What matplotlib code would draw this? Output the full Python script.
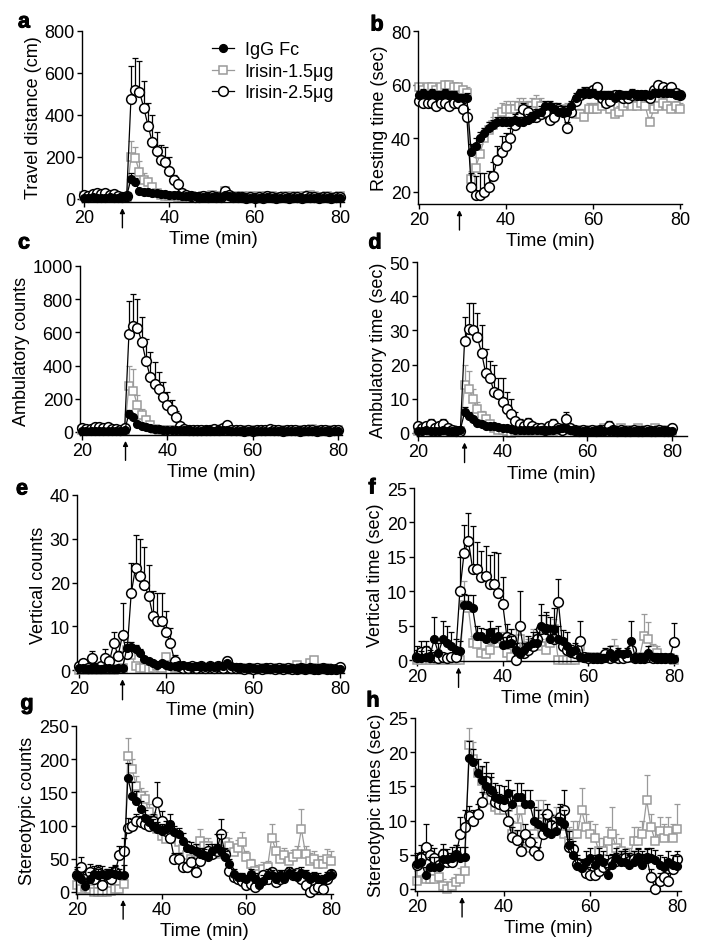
import numpy as np
import matplotlib.pyplot as plt
import matplotlib.patheffects as pe

plt.rcParams.update({
    'font.family': ['Liberation Sans', 'DejaVu Sans'],
    'axes.linewidth': 1.0,
    'xtick.major.width': 1.0,
    'ytick.major.width': 1.0,
    'xtick.major.size': 3.5,
    'ytick.major.size': 3.5,
    'xtick.labelsize': 13,
    'ytick.labelsize': 13,
})

# time bins (min)
time = np.arange(20, 81)

# ---- a: travel distance (cm)
igg_a = [5, 5, 8, 5, 5, 5, 8, 5, 5, 8,
         15, 95, 80, 40, 35, 32, 30, 28, 25, 22,
         20, 20, 18, 15, 15, 12, 12, 10, 10, 8,
         10, 8, 10, 20, 15, 10, 8, 8, 5, 5,
         5, 5, 5, 8, 5, 5, 5, 5, 5, 5,
         5, 5, 5, 5, 5, 5, 5, 5, 5, 5, 5]
igg_a_err = [8, 6, 8, 6, 6, 6, 8, 6, 6, 8,
             10, 30, 20, 10, 8, 8, 8, 6, 6, 6,
             6, 6, 5, 5, 5, 5, 5, 4, 4, 4,
             4, 4, 5, 8, 6, 5, 4, 4, 3, 3,
             3, 3, 3, 4, 3, 3, 3, 3, 3, 3,
             3, 3, 3, 3, 3, 3, 3, 3, 3, 3, 3]
lo_a = [15, 10, 15, 20, 15, 10, 15, 10, 10, 10,
        10, 200, 195, 130, 90, 80, 55, 30, 20, 15,
        15, 15, 10, 10, 10, 15, 10, 10, 15, 15,
        20, 15, 15, 40, 15, 10, 15, 15, 10, 15,
        10, 15, 10, 15, 15, 10, 10, 15, 10, 15,
        10, 15, 15, 20, 15, 10, 10, 15, 10, 10, 15]
lo_a_err = [6, 5, 6, 8, 6, 5, 6, 5, 5, 5,
            5, 75, 55, 50, 35, 20, 15, 10, 8, 6,
            6, 6, 5, 5, 5, 6, 5, 5, 6, 6,
            8, 6, 6, 10, 6, 5, 6, 6, 5, 6,
            5, 6, 5, 6, 6, 5, 5, 6, 5, 6,
            5, 6, 6, 8, 6, 5, 5, 6, 5, 5, 6]
hi_a = [20, 15, 25, 30, 25, 30, 20, 25, 15, 10,
        15, 475, 520, 510, 435, 350, 270, 230, 185, 175,
        135, 90, 70, 30, 20, 15, 10, 10, 15, 10,
        15, 10, 10, 40, 20, 10, 10, 10, 5, 10,
        5, 10, 5, 15, 10, 5, 10, 10, 5, 10,
        10, 5, 15, 10, 10, 5, 10, 10, 5, 10, 10]
hi_a_err = [8, 6, 10, 12, 10, 12, 8, 10, 6, 5,
            8, 160, 150, 145, 125, 105, 130, 90, 70, 75,
            65, 25, 15, 10, 8, 6, 5, 5, 6, 5,
            6, 5, 5, 12, 8, 5, 5, 5, 3, 5,
            3, 5, 3, 6, 5, 3, 5, 5, 3, 5,
            5, 3, 6, 5, 5, 3, 5, 5, 3, 5, 5]

# ---- b: resting time (sec)
igg_b = [56, 57, 56, 57, 56, 56, 57, 56, 56, 55,
         55, 55, 35, 37, 40, 42, 44, 45, 46, 46,
         46, 46, 47, 46, 46, 47, 48, 49, 50, 52,
         52, 51, 50, 50, 50, 52, 55, 57, 57, 57,
         57, 56, 56, 56, 56, 55, 56, 56, 56, 57,
         56, 56, 56, 56, 57, 57, 57, 57, 57, 56, 56]
igg_b_err = [1.5, 1.5, 1.5, 1.5, 1.5, 1.5, 1.5, 1.5, 1.5, 1.5,
             1.5, 2, 3, 3, 2.5, 2, 2, 2, 2, 2,
             2, 2, 2, 2, 2, 2, 2, 2, 2, 2,
             2, 2, 2, 2, 2, 2, 2, 1.5, 1.5, 1.5,
             1.5, 1.5, 1.5, 1.5, 1.5, 1.5, 1.5, 1.5, 1.5, 1.5,
             1.5, 1.5, 1.5, 1.5, 1.5, 1.5, 1.5, 1.5, 1.5, 1.5, 1.5]
lo_b = [59, 58, 59, 59, 58, 59, 60, 60, 59, 59,
        58, 57, 25, 29, 34, 40, 43, 45, 48, 50,
        51, 51, 51, 52, 52, 51, 52, 53, 52, 50,
        49, 51, 50, 50, 51, 50, 49, 49, 48, 51,
        51, 51, 52, 53, 51, 49, 50, 52, 53, 52,
        52, 53, 52, 46, 51, 52, 53, 52, 51, 52, 51]
lo_b_err = [1.5, 1.5, 1.5, 1.5, 1.5, 1.5, 1.5, 1.5, 1.5, 1.5,
            1.5, 2, 3, 4, 4, 4, 3, 3, 3, 3,
            3, 3, 3, 3, 3, 3, 3, 3, 3, 2,
            2, 2, 2, 2, 2, 2, 2, 2, 2, 2,
            2, 2, 2, 2, 2, 2, 2, 2, 2, 2,
            2, 2, 2, 2, 2, 2, 2, 2, 2, 2, 2]
hi_b = [54, 53, 53, 53, 52, 53, 53, 52, 53, 53,
        51, 48, 22, 19, 19, 20, 22, 26, 32, 35,
        37, 40, 45, 48, 51, 50, 48, 48, 49, 50,
        47, 48, 51, 50, 44, 50, 54, 56, 57, 57,
        58, 59, 55, 53, 54, 56, 56, 55, 55, 56,
        56, 56, 56, 55, 58, 60, 59, 58, 59, 57, 56]
hi_b_err = [1.5, 1.5, 1.5, 1.5, 1.5, 1.5, 1.5, 1.5, 1.5, 1.5,
            2, 3, 5, 7, 8, 7, 6, 5, 5, 6,
            5, 4, 3, 2, 2, 2, 2, 2, 2, 2,
            2, 2, 2, 2, 2, 2, 2, 2, 2, 2,
            1.5, 1.5, 1.5, 1.5, 1.5, 1.5, 1.5, 1.5, 1.5, 1.5,
            1.5, 1.5, 1.5, 1.5, 1.5, 1.5, 1.5, 1.5, 1.5, 1.5, 1.5]

# ---- c: ambulatory counts
igg_c = [5, 5, 8, 5, 5, 8, 5, 5, 8, 5,
         10, 110, 90, 50, 35, 28, 22, 20, 18, 15,
         15, 12, 12, 10, 10, 10, 8, 8, 8, 10,
         10, 8, 10, 15, 10, 8, 8, 5, 5, 5,
         5, 5, 5, 8, 5, 5, 5, 5, 5, 5,
         5, 5, 5, 5, 5, 5, 5, 5, 5, 5, 5]
igg_c_err = [6, 5, 6, 5, 5, 6, 5, 5, 6, 5,
             6, 25, 15, 10, 8, 6, 5, 5, 5, 5,
             5, 5, 5, 5, 5, 5, 5, 5, 5, 5,
             5, 5, 5, 6, 5, 5, 5, 4, 4, 4,
             4, 4, 4, 5, 4, 4, 4, 4, 4, 4,
             4, 4, 4, 4, 4, 4, 4, 4, 4, 4, 4]
lo_c = [10, 10, 15, 15, 10, 10, 15, 10, 10, 10,
        10, 280, 250, 160, 100, 75, 40, 20, 10, 10,
        10, 15, 10, 10, 10, 15, 10, 10, 10, 15,
        15, 10, 10, 20, 15, 10, 10, 10, 10, 15,
        10, 15, 10, 10, 15, 10, 10, 15, 10, 10,
        10, 15, 10, 15, 20, 10, 10, 15, 10, 10, 10]
lo_c_err = [5, 5, 6, 6, 5, 5, 6, 5, 5, 5,
            5, 120, 130, 60, 40, 20, 12, 8, 5, 5,
            5, 6, 5, 5, 5, 6, 5, 5, 5, 6,
            6, 5, 5, 8, 6, 5, 5, 5, 5, 6,
            5, 6, 5, 5, 6, 5, 5, 6, 5, 5,
            5, 6, 5, 6, 8, 5, 5, 6, 5, 5, 5]
hi_c = [25, 20, 20, 30, 30, 25, 30, 20, 20, 15,
        25, 590, 640, 625, 545, 430, 330, 290, 260, 210,
        160, 130, 90, 35, 20, 15, 10, 10, 15, 10,
        15, 20, 10, 25, 40, 15, 10, 10, 5, 10,
        5, 10, 10, 15, 20, 10, 10, 5, 10, 10,
        10, 5, 10, 10, 10, 5, 10, 10, 5, 10, 15]
hi_c_err = [8, 8, 8, 10, 10, 8, 10, 8, 8, 6,
            10, 200, 190, 175, 145, 130, 150, 130, 100, 90,
            80, 60, 35, 15, 8, 6, 5, 5, 6, 5,
            6, 8, 5, 10, 12, 6, 5, 5, 3, 5,
            3, 5, 5, 6, 8, 5, 5, 3, 5, 5,
            5, 3, 5, 5, 5, 3, 5, 5, 3, 5, 6]

# ---- d: ambulatory time (sec)
igg_d = [0.5, 0.5, 0.8, 0.5, 0.5, 0.5, 0.8, 0.5, 0.5, 0.5,
         1, 6, 5, 4, 2.8, 2.5, 2, 2, 2, 1.8,
         1.5, 1.5, 1.2, 1, 1, 1, 0.8, 0.8, 0.8, 1,
         1, 1, 0.8, 1.2, 1.5, 1.5, 1, 0.8, 0.5, 0.5,
         0.5, 0.5, 0.5, 0.8, 0.5, 0.5, 0.8, 0.5, 0.5, 0.5,
         0.5, 0.5, 0.5, 0.5, 0.5, 0.5, 0.5, 0.5, 0.5, 0.5, 0.5]
igg_d_err = [0.4, 0.4, 0.5, 0.4, 0.4, 0.4, 0.5, 0.4, 0.4, 0.4,
             0.5, 1.5, 1.2, 1, 0.8, 0.6, 0.5, 0.5, 0.5, 0.5,
             0.5, 0.5, 0.4, 0.4, 0.4, 0.4, 0.4, 0.4, 0.4, 0.4,
             0.4, 0.4, 0.4, 0.5, 0.6, 0.6, 0.4, 0.4, 0.3, 0.3,
             0.3, 0.3, 0.3, 0.4, 0.3, 0.3, 0.4, 0.3, 0.3, 0.3,
             0.3, 0.3, 0.3, 0.3, 0.3, 0.3, 0.3, 0.3, 0.3, 0.3, 0.3]
lo_d = [0.5, 1, 0.8, 0.5, 1, 0.5, 0.8, 0.5, 1, 0.5,
        0.5, 14, 13, 10, 7, 5, 4, 2.5, 1.5, 1,
        1, 0.5, 0, 0.5, 0.5, 1, 0.5, 0.5, 1, 0.5,
        1, 0.5, 0.5, 1, 1, 1.5, 1, 0.5, 0.5, 1,
        0.5, 1, 0.5, 1, 1.5, 1, 0.5, 1, 1.5, 1,
        1, 0.5, 1.5, 1, 0.5, 1, 1.5, 1, 0.5, 1, 0.5]
lo_d_err = [0.4, 0.5, 0.4, 0.4, 0.5, 0.4, 0.4, 0.4, 0.5, 0.4,
            0.4, 6, 5, 3, 2, 1.5, 1, 0.8, 0.6, 0.5,
            0.5, 0.4, 0.3, 0.4, 0.4, 0.5, 0.4, 0.4, 0.5, 0.4,
            0.5, 0.4, 0.4, 0.5, 0.5, 0.6, 0.5, 0.4, 0.4, 0.5,
            0.4, 0.5, 0.4, 0.5, 0.6, 0.5, 0.4, 0.5, 0.6, 0.5,
            0.5, 0.4, 0.6, 0.5, 0.4, 0.5, 0.6, 0.5, 0.4, 0.5, 0.4]
hi_d = [2, 1.5, 2, 2.5, 1.5, 2, 2.5, 1.5, 1, 0.5,
        0.5, 27, 30.5, 30, 28, 23.5, 17.5, 16, 12, 11.5,
        9, 7, 5.5, 3.5, 2.5, 2, 3, 2, 1.5, 1.5,
        1, 2, 2.5, 1.5, 1, 4, 1.5, 1, 0.5, 1,
        0.5, 1, 0.5, 1, 1, 2, 1, 0.5, 1, 0.5,
        0.5, 1, 0.5, 0.5, 1, 0.5, 0.5, 1, 0.5, 0.5, 1.5]
hi_d_err = [0.8, 0.8, 0.8, 1.5, 0.8, 0.8, 1.5, 0.8, 0.6, 0.4,
            0.5, 7, 7.5, 8, 7, 8, 7, 5, 8, 4.5,
            7, 5, 4.5, 2.5, 1.5, 1, 1.5, 1, 0.8, 0.8,
            0.6, 1, 1.5, 0.8, 0.6, 2, 0.8, 0.6, 0.4, 0.6,
            0.4, 0.6, 0.4, 0.6, 0.6, 1.5, 0.6, 0.4, 0.6, 0.4,
            0.4, 0.6, 0.4, 0.4, 0.6, 0.4, 0.4, 0.6, 0.4, 0.4, 1]

# ---- e: vertical counts
igg_e = [0.5, 0.5, 0.3, 0.5, 0.5, 0.3, 0.5, 0.5, 0.3, 0.5,
         0.5, 5, 5.2, 4.8, 4, 2.5, 2, 1.5, 1.2, 1.5,
         1.2, 1, 1, 1, 1.2, 1, 0.8, 1, 1, 0.8,
         1, 0.8, 1, 1, 1.5, 1, 0.8, 0.5, 0.5, 0.5,
         0.5, 0.3, 0.5, 0.5, 0.3, 0.5, 0.3, 0.5, 0.3, 0.5,
         0.3, 0.5, 0.3, 0.5, 0.3, 0.3, 0.5, 0.3, 0.3, 0.3, 0.3]
igg_e_err = [0.3, 0.3, 0.2, 0.3, 0.3, 0.2, 0.3, 0.3, 0.2, 0.3,
             0.3, 1.5, 1.2, 1, 0.8, 0.6, 0.5, 0.4, 0.4, 0.4,
             0.4, 0.3, 0.3, 0.3, 0.4, 0.3, 0.3, 0.3, 0.3, 0.3,
             0.3, 0.3, 0.3, 0.3, 0.5, 0.3, 0.3, 0.2, 0.2, 0.2,
             0.2, 0.2, 0.2, 0.2, 0.2, 0.2, 0.2, 0.2, 0.2, 0.2,
             0.2, 0.2, 0.2, 0.2, 0.2, 0.2, 0.2, 0.2, 0.2, 0.2, 0.2]
lo_e = [0, 0.3, 0, 0.5, 0, 0.3, 0, 0.5, 0, 0.3,
        0.5, 4.5, 3.5, 1, 0.5, 0.5, 0.3, 0.5, 1, 0.5,
        3, 1, 0.5, 0.5, 0.3, 0.5, 0.3, 0.5, 0.5, 0.3,
        0.5, 0.3, 0.5, 0.5, 1, 0.5, 0.3, 0.5, 0.3, 0.5,
        0.3, 0.5, 0.3, 0.5, 0.3, 0.5, 0.5, 0.3, 0.5, 0.5,
        1.2, 0.5, 0.5, 1.5, 2.2, 0.5, 0.3, 0.5, 0.3, 0.3, 0.3]
lo_e_err = [0.2, 0.3, 0.2, 0.3, 0.2, 0.3, 0.2, 0.3, 0.2, 0.3,
            0.3, 1.5, 1, 0.5, 0.3, 0.3, 0.2, 0.3, 0.5, 0.3,
            1, 0.5, 0.3, 0.3, 0.2, 0.3, 0.2, 0.3, 0.3, 0.2,
            0.3, 0.2, 0.3, 0.3, 0.5, 0.3, 0.2, 0.3, 0.2, 0.3,
            0.2, 0.3, 0.2, 0.3, 0.2, 0.3, 0.3, 0.2, 0.3, 0.3,
            0.5, 0.3, 0.3, 0.6, 0.8, 0.3, 0.2, 0.3, 0.2, 0.2, 0.2]
hi_e = [1, 1.5, 0.5, 2.7, 0.5, 1, 2.7, 2, 6.2, 3.3,
        8, 3.6, 17.5, 23.4, 21.5, 19.4, 17, 12.4, 11.3, 11.2,
        8.6, 6.1, 2, 1, 0.5, 0.5, 1, 0.5, 1, 0.5,
        1, 0.5, 1, 0.5, 2, 0.5, 0.5, 0.5, 0.3, 0.5,
        0.3, 0.5, 0.3, 0.5, 0.5, 0.3, 0.5, 0.3, 0.5, 0.3,
        0.3, 0.5, 0.3, 0.5, 0.3, 0.3, 0.5, 0.3, 0.3, 0.3, 0.8]
hi_e_err = [0.5, 0.8, 0.3, 1.7, 0.3, 0.5, 2, 1, 2.6, 1,
            7.3, 1.5, 7, 7.4, 8.5, 8.8, 7, 5.7, 6.2, 6.3,
            4.9, 3.4, 1.5, 0.5, 0.3, 0.3, 0.5, 0.3, 0.5, 0.3,
            0.5, 0.3, 0.5, 0.3, 1, 0.3, 0.3, 0.3, 0.2, 0.3,
            0.2, 0.3, 0.2, 0.3, 0.3, 0.2, 0.3, 0.2, 0.3, 0.2,
            0.2, 0.3, 0.2, 0.3, 0.2, 0.2, 0.3, 0.2, 0.2, 0.2, 0.4]

# ---- f: vertical time (sec)
igg_f = [0.5, 0.3, 0.5, 0.5, 3, 1, 3, 2.5, 2, 1.5,
         1.3, 8, 8, 7.5, 3.5, 3.5, 3, 4, 3, 3.5,
         2.2, 2.3, 2.5, 1.5, 0.8, 1.5, 2, 2.5, 2.5, 5,
         4.5, 3, 4.5, 3, 2.8, 2, 1.2, 1.5, 0.5, 0.3,
         0.5, 0.3, 0.3, 0.3, 0.3, 1, 0.5, 1, 0.8, 1,
         2.8, 0.3, 0.3, 0.3, 1, 0.5, 0.3, 0.3, 0.3, 0.3, 0.2]
igg_f_err = [1.5, 1, 1.5, 1, 3.3, 1.5, 2.7, 2.5, 2, 1.5,
             1.5, 1.6, 1.5, 2, 1.5, 1.2, 1.5, 1.6, 1.7, 1.5,
             1.2, 1, 1, 1, 1, 1, 1.5, 1.5, 1.5, 3.2,
             2.5, 2, 3, 2, 1.5, 2, 1, 1, 0.5, 0.5,
             0.5, 0.5, 0.5, 0.5, 0.5, 1, 0.5, 0.8, 0.5, 0.8,
             2.9, 0.5, 0.5, 0.5, 1, 0.5, 0.5, 0.5, 0.5, 0.5, 0.5]
lo_f = [0, 0, 0, 0, 0, 0, 0, 0, 0, 0,
        0, 8, 7.5, 2.5, 2.3, 1, 0.8, 1.5, 3, 2.5,
        3, 1, 0.5, 2.5, 3, 1.5, 2, 2.5, 3, 2,
        1.5, 2.5, 4.5, 0, 0, 0, 0, 0, 2, 0.5,
        0.3, 0.5, 0.3, 0.5, 0.5, 1, 1.5, 0.5, 0.3, 0.3,
        0.5, 0.3, 0.5, 3.5, 3, 1.5, 1, 0.3, 0.3, 0.3, 0]
lo_f_err = [0.2, 0.2, 0.2, 0.2, 0.2, 0.2, 0.2, 0.2, 0.2, 0.2,
            0.2, 3.5, 2, 1, 1, 0.5, 0.5, 0.8, 1.5, 1,
            1, 0.5, 0.3, 2, 1.5, 0.8, 1, 2, 1.5, 1,
            0.8, 1, 1.5, 0.2, 0.2, 0.2, 0.2, 0.2, 1, 0.3,
            0.2, 0.3, 0.2, 0.3, 0.3, 0.5, 1.5, 0.3, 0.2, 0.2,
            0.3, 0.2, 0.3, 3.2, 2.5, 0.8, 1, 0.2, 0.2, 0.2, 0.2]
hi_f = [0.5, 1.2, 1.3, 0.5, 0.5, 0.3, 0.5, 0.3, 0.5, 0.5,
        10, 15.6, 17.3, 13.2, 13.2, 12.1, 12.2, 11, 11, 9.8,
        8.2, 3.3, 3, 0, 5, 1, 1.5, 2, 3, 4.5,
        4.5, 4.3, 3, 8.5, 2, 1.5, 1.2, 1, 2.8, 0.5,
        0.3, 0.3, 0.3, 0.3, 0.8, 0.3, 0.5, 0.3, 0.3, 0.5,
        1.5, 0.3, 0.3, 0.3, 0.5, 0.3, 0.3, 0.3, 0.3, 0.3, 2.6]
hi_f_err = [1, 1.5, 1.5, 0.4, 0.4, 0.3, 0.4, 0.3, 0.4, 0.4,
            5, 4, 4, 6.3, 4, 3.8, 4.4, 4.2, 4.7, 5.7,
            3.8, 2, 1.5, 0.3, 5, 0.8, 1, 1.2, 1.5, 2,
            2, 2, 1.5, 3.3, 1, 0.8, 0.6, 0.5, 2.9, 0.3,
            0.3, 0.3, 0.3, 0.3, 1, 0.3, 0.4, 0.3, 0.3, 0.4,
            1, 0.3, 0.3, 0.3, 0.4, 0.3, 0.3, 0.3, 0.3, 0.3, 2.8]

# ---- g: stereotypic counts
igg_g = [25, 20, 9, 20, 27, 25, 27, 25, 28, 27,
         25, 25, 172, 145, 137, 125, 112, 105, 100, 95,
         92, 95, 102, 90, 87, 77, 67, 65, 62, 57,
         55, 52, 62, 67, 62, 52, 42, 27, 22, 22,
         20, 27, 20, 10, 17, 25, 25, 20, 25, 20,
         28, 25, 22, 28, 25, 20, 22, 20, 18, 22, 25]
igg_g_err = [12, 10, 8, 10, 12, 10, 12, 10, 10, 12,
             10, 15, 23, 20, 15, 12, 12, 10, 10, 10,
             10, 12, 15, 10, 10, 12, 10, 10, 10, 10,
             10, 8, 10, 20, 25, 10, 8, 8, 6, 6,
             6, 8, 8, 6, 8, 10, 8, 8, 8, 8,
             10, 8, 8, 10, 8, 8, 8, 8, 8, 8, 8]
lo_g = [10, 5, 8, 5, 0, 0, 0, 0, 2, 5,
        5, 12, 205, 185, 160, 145, 140, 120, 110, 95,
        85, 80, 95, 80, 75, 65, 55, 50, 60, 77,
        70, 70, 60, 57, 60, 75, 70, 60, 67, 75,
        52, 42, 32, 27, 35, 37, 82, 62, 50, 55,
        47, 52, 57, 95, 57, 47, 50, 42, 42, 50, 47]
lo_g_err = [8, 5, 5, 5, 3, 3, 3, 3, 3, 5,
            5, 8, 27, 15, 15, 12, 12, 12, 10, 10,
            10, 10, 12, 10, 10, 10, 10, 10, 12, 18,
            12, 12, 10, 10, 12, 15, 12, 10, 12, 15,
            10, 8, 8, 8, 10, 10, 20, 15, 12, 12,
            12, 12, 12, 30, 12, 12, 12, 12, 12, 15, 15]
hi_g = [25, 37, 20, 30, 20, 30, 10, 25, 20, 30,
        55, 62, 97, 100, 107, 105, 103, 100, 107, 135,
        107, 92, 82, 50, 50, 37, 37, 45, 30, 47,
        57, 62, 57, 62, 87, 57, 32, 22, 20, 17,
        10, 12, 8, 20, 25, 20, 30, 15, 20, 25,
        30, 25, 28, 20, 10, 0, 5, 7, 5, 20, 27]
hi_g_err = [10, 15, 10, 12, 10, 10, 8, 10, 10, 10,
            15, 20, 15, 10, 10, 10, 10, 10, 10, 30,
            15, 12, 10, 8, 8, 8, 8, 8, 8, 8,
            10, 10, 10, 10, 23, 10, 6, 6, 6, 6,
            6, 6, 6, 6, 6, 6, 6, 6, 6, 6,
            6, 6, 6, 6, 6, 6, 6, 6, 6, 6, 6]

# ---- h: stereotypic times (sec)
igg_h = [3.7, 3.9, 2, 3.2, 3.2, 3.2, 4.4, 4.4, 4.6, 4.9,
         4.6, 4.7, 19.2, 18.5, 17, 16, 15, 14.5, 13.5, 13.2,
         13, 14, 12.5, 13.5, 13.5, 12.5, 12.5, 10, 9.5, 9,
         8.3, 8, 8.5, 10, 9.5, 6.5, 5, 3.3, 3, 4,
         4.5, 3.5, 4.5, 4, 2, 3.5, 4.5, 4, 4, 3.5,
         4, 4.5, 3.5, 4.5, 4.5, 4.2, 3.5, 3.2, 4, 3.5, 3.3]
igg_h_err = [1.5, 1.5, 1.2, 1.5, 1.5, 1.5, 1.5, 1.5, 1.5, 1.5,
             1.5, 1.5, 2.5, 2, 2, 2, 2, 2.5, 2, 2,
             2, 2, 2, 2, 2, 2, 2, 2, 2, 2,
             2, 2, 2, 2, 2, 2, 1.5, 1.2, 1.2, 1.5,
             1.5, 1.5, 1.5, 1.5, 1.2, 1.5, 1.5, 1.5, 1.5, 1.5,
             1.5, 1.5, 1.5, 1.5, 1.5, 1.5, 1.5, 1.5, 1.5, 1.5, 1.5]
lo_h = [1.2, 2.5, 1.5, 1.5, 1.5, 1.7, 0.5, 0, 0.5, 1,
        1.5, 2.7, 21, 19, 17, 15.8, 14.5, 13, 12, 11.5,
        11.5, 12, 8, 9, 11.5, 7, 6, 8, 11, 11,
        9.5, 9, 10, 9, 8, 7, 8, 8, 11.5, 9,
        8, 7.5, 5.5, 5.5, 7, 8, 6, 5.5, 4.5, 4.5,
        7, 7, 8, 13, 9, 7, 8.5, 7.5, 8.5, 7.5, 8.8]
lo_h_err = [1.5, 2, 1.5, 1.5, 1.5, 1.5, 1, 0.8, 1, 1.2,
            1.5, 2, 2.5, 2.5, 2, 2, 2, 2, 1.5, 1.5,
            1.5, 1.5, 2, 2, 2, 1.5, 1.5, 2, 2, 2,
            2, 2, 2, 2, 2, 2, 2, 2, 3.3, 2,
            2, 2, 2, 2, 2, 4, 2, 2, 1.5, 1.5,
            2, 2, 2, 3.7, 2, 2, 2, 2, 2, 2, 3.7]
hi_h = [3.5, 4.5, 6.2, 5, 4.5, 3.5, 5.1, 4, 4, 5,
        8, 9, 10.7, 10, 11, 12.7, 15.8, 14.4, 12.7, 12.4,
        12.2, 10, 7.6, 7.1, 5.6, 8, 6.8, 5.6, 4.9, 8,
        11, 9.3, 9, 10.5, 11.5, 6.1, 5.8, 3.7, 3.2, 2.4,
        2, 2, 2.7, 3.2, 3.7, 3.9, 4.1, 4.4, 4.6, 4.1,
        4.4, 4.6, 4.4, 4.6, 1.7, 0, 1.2, 1.7, 1.2, 2.9, 4.4]
hi_h_err = [1.5, 2, 3.3, 1.5, 1.5, 1.5, 1.5, 1.2, 1.2, 1.5,
            2.5, 2.5, 1.5, 1.5, 1.5, 1.5, 2.7, 2, 1.5, 1.5,
            1.5, 1.5, 1.5, 1.5, 1.2, 1.5, 1.2, 1.2, 1.2, 1.5,
            1.5, 1.5, 1.5, 2, 3, 1.2, 1.2, 1.2, 1.2, 1.2,
            1.2, 1.2, 1.2, 1.2, 1.2, 1.2, 1.2, 1.2, 1.2, 1.2,
            1.2, 1.2, 1.2, 1.2, 1.2, 1.2, 1.2, 1.2, 1.2, 1.2, 1.2]

ylabels = ['Travel distance (cm)', 'Resting time (sec)', 'Ambulatory counts',
           'Ambulatory time (sec)', 'Vertical counts', 'Vertical time (sec)',
           'Stereotypic counts', 'Stereotypic times (sec)']
letters = ['a', 'b', 'c', 'd', 'e', 'f', 'g', 'h']
series = [
    (igg_a, igg_a_err, lo_a, lo_a_err, hi_a, hi_a_err),
    (igg_b, igg_b_err, lo_b, lo_b_err, hi_b, hi_b_err),
    (igg_c, igg_c_err, lo_c, lo_c_err, hi_c, hi_c_err),
    (igg_d, igg_d_err, lo_d, lo_d_err, hi_d, hi_d_err),
    (igg_e, igg_e_err, lo_e, lo_e_err, hi_e, hi_e_err),
    (igg_f, igg_f_err, lo_f, lo_f_err, hi_f, hi_f_err),
    (igg_g, igg_g_err, lo_g, lo_g_err, hi_g, hi_g_err),
    (igg_h, igg_h_err, lo_h, lo_h_err, hi_h, hi_h_err),
]

# layout in pixels: tick20 px, tick80 px, xlim, (px, val) of top tick, (px, val) of low tick,
# ylim, yticks, arrow x, panel-letter centre
W, H = 704, 953
layout = [
    (84, 340, (19.5, 81), (32, 800), (200, 0), (-15, 800), [0, 200, 400, 600, 800], 29.0, (24, 23)),
    (419, 680, (19.8, 80.5), (32, 80), (193, 20), (15.5, 80), [20, 40, 60, 80], 29.3, (377, 26)),
    (82, 338, (19.5, 81), (267, 1000), (433, 0), (-18, 1000), [0, 200, 400, 600, 800, 1000], 30.2, (24, 244)),
    (418, 672, (19.7, 83.5), (263, 50), (434, 0), (-1, 50), [0, 10, 20, 30, 40, 50], 31.0, (375, 244)),
    (79, 340, (19.5, 81), (496, 40), (671, 0), (-0.7, 40), [0, 10, 20, 30, 40], 30.0, (22, 490)),
    (417, 674, (19.3, 80.8), (489, 25), (661, 0), (-0.2, 25), [0, 5, 10, 15, 20, 25], 29.7, (372, 489)),
    (77, 331, (19.8, 80.5), (727, 250), (893, 0), (-3, 250), [0, 50, 100, 150, 200, 250], 30.9, (27, 705)),
    (417, 677, (19.5, 81), (719, 25), (890, 0), (-0.3, 25), [0, 5, 10, 15, 20, 25], 30.4, (373, 702)),
]

GRAY = '#9a9a9a'
fig = plt.figure(figsize=(W / 100, H / 100), dpi=100)

for k in range(8):
    p20, p80, xl, (hpx, hval), (lpx, lval), yl, yt, xarr, (lx, ly) = layout[k]
    sx = (p80 - p20) / 60
    left = p20 - (20 - xl[0]) * sx
    right = p80 + (xl[1] - 80) * sx
    sy = (lpx - hpx) / (hval - lval)
    top = hpx - (yl[1] - hval) * sy
    bottom = lpx + (lval - yl[0]) * sy
    ax = fig.add_axes([left / W, 1 - bottom / H, (right - left) / W, (bottom - top) / H])

    igg, igg_err, lo, lo_err, hi, hi_err = series[k]
    specs = [
        (lo, lo_err, GRAY, 's', 'white', GRAY, 6.3, 2, 'Irisin-1.5\u03bcg'),
        (hi, hi_err, 'black', 'o', 'white', 'black', 7.0, 3, 'Irisin-2.5\u03bcg'),
        (igg, igg_err, 'black', 'o', 'black', 'black', 5.5, 4, 'IgG Fc'),
    ]
    handles = {}
    for y, e, c, m, mfc, mec, ms, z, lab in specs:
        y = np.array(y, dtype=float)
        e = np.array(e, dtype=float)
        ax.errorbar(time, y, yerr=[np.zeros_like(e), e], fmt='none', ecolor=c,
                    elinewidth=0.9, capsize=2.5, capthick=0.9, zorder=z - 0.5, clip_on=False)
        ln, = ax.plot(time, y, color=c, marker=m, ms=ms, mfc=mfc, mec=mec, mew=1.1,
                      lw=0.9, zorder=z, clip_on=False, label=lab)
        handles[lab] = ln

    ax.set_xlim(*xl)
    ax.set_ylim(*yl)
    ax.set_xticks([20, 40, 60, 80])
    ax.set_yticks(yt)
    ax.spines['top'].set_visible(False)
    ax.spines['right'].set_visible(False)
    ax.tick_params(direction='out', pad=1.5)
    ax.set_xlabel('Time (min)', fontsize=13.5, labelpad=3)
    ax.set_ylabel(ylabels[k], fontsize=13, labelpad=2)

    ax.annotate('', xy=(xarr, -0.035), xycoords=('data', 'axes fraction'),
                xytext=(xarr, -0.15), textcoords=('data', 'axes fraction'),
                arrowprops=dict(arrowstyle='-|>', lw=1.0, color='black',
                                mutation_scale=7, shrinkA=0, shrinkB=0))
    fig.text(lx / W, 1 - ly / H, letters[k], fontsize=15.5, fontweight='bold',
             ha='center', va='center',
             path_effects=[pe.withStroke(linewidth=0.7, foreground='black')])

    if k == 0:
        ax.legend([handles['IgG Fc'], handles['Irisin-1.5\u03bcg'], handles['Irisin-2.5\u03bcg']],
                  ['IgG Fc', 'Irisin-1.5\u03bcg', 'Irisin-2.5\u03bcg'],
                  loc='upper left', bbox_to_anchor=(0.49, 0.95), frameon=False,
                  fontsize=13, handlelength=1.2, handletextpad=0.6,
                  labelspacing=0.25, borderpad=0.1, borderaxespad=0)

fig.savefig('out.png', dpi=100)
